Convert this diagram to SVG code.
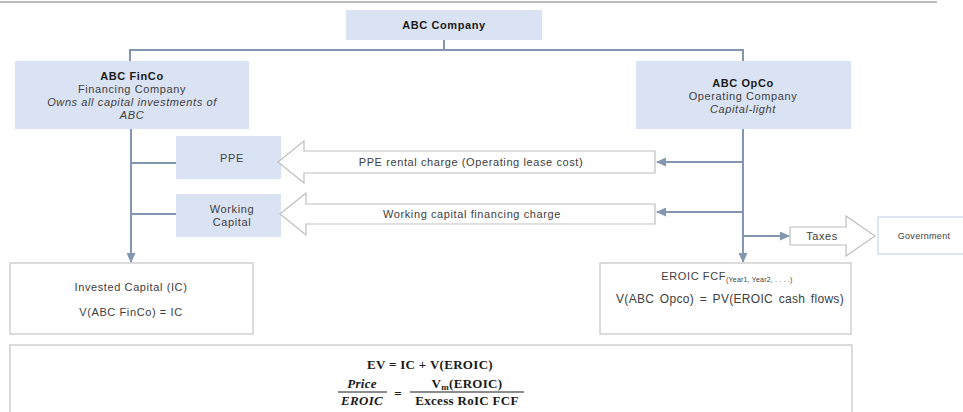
<svg xmlns="http://www.w3.org/2000/svg" width="963" height="412" viewBox="0 0 963 412">
<style>
text{font-family:"Liberation Sans","Arial",sans-serif;font-size:11px;letter-spacing:0.6px;fill:#404040;text-anchor:middle}
.b{font-weight:bold;fill:#1a1a1a}
.i{font-style:italic}
.blue{fill:#dae3f3}
.wbox{fill:#fff;stroke:#d0d0d0;stroke-width:1.5}
.blk{fill:#fff;stroke:#bfbfbf;stroke-width:1.2}
.con{fill:none;stroke:#8497b0;stroke-width:2}
.math{font-family:"Liberation Serif","DejaVu Serif",serif;font-weight:bold;font-size:13px;letter-spacing:0.3px;fill:#1a1a1a}
</style>
<defs>
<marker id="ah" markerUnits="userSpaceOnUse" markerWidth="10" markerHeight="9" refX="9" refY="4.5" orient="auto">
<path d="M0,0 L10,4.5 L0,9 z" fill="#8497b0"/>
</marker>
</defs>
<line x1="0" y1="2" x2="937" y2="2" stroke="#a6a6a6" stroke-width="1.5"/>
<g id="connectors">
<path class="con" d="M444,40 V50 M130,61 V50 H743 V61"/>
<path class="con" d="M131,129 V262" marker-end="url(#ah)"/>
<path class="con" d="M131,163 H176 M131,214 H176"/>
<path class="con" d="M743,129 V262" marker-end="url(#ah)"/>
<path class="con" d="M743,162 H657" marker-end="url(#ah)"/>
<path class="con" d="M743,212 H657" marker-end="url(#ah)"/>
<path class="con" d="M743,236 H789" marker-end="url(#ah)"/>
</g>
<g id="abc-company">
<rect class="blue" x="346" y="10" width="196" height="30"/>
<text class="b" x="444" y="29">ABC Company</text>
</g>
<g id="finco">
<rect class="blue" x="15" y="61" width="234" height="68"/>
<text class="b" x="132" y="80">ABC FinCo</text>
<text x="132" y="93">Financing Company</text>
<text class="i" x="132" y="106">Owns all capital investments of</text>
<text class="i" x="132" y="119">ABC</text>
</g>
<g id="opco">
<rect class="blue" x="636" y="61" width="215" height="68"/>
<text class="b" x="743" y="87">ABC OpCo</text>
<text x="743" y="100">Operating Company</text>
<text class="i" x="743" y="113">Capital-light</text>
</g>
<g id="ppe">
<rect class="blue" x="176" y="136" width="105" height="43"/>
<text x="232" y="162">PPE</text>
</g>
<g id="working-capital">
<rect class="blue" x="176" y="194" width="105" height="43"/>
<text x="232" y="213">Working</text>
<text x="232" y="226">Capital</text>
</g>
<g id="ppe-charge">
<polygon class="blk" points="278,162 304,141 304,151 655,151 655,173 304,173 304,183"/>
<text x="471" y="166">PPE rental charge (Operating lease cost)</text>
</g>
<g id="wc-charge">
<polygon class="blk" points="280,214 306,193 306,204 655,204 655,224 306,224 306,235"/>
<text x="472" y="218">Working capital financing charge</text>
</g>
<g id="taxes">
<polygon class="blk" points="790,227 846,227 846,216 875,236 846,256 846,245 790,245"/>
<text x="822" y="240">Taxes</text>
</g>
<g id="government">
<rect x="878" y="217" width="95" height="37" fill="#fff" stroke="#c9d5ea" stroke-width="1.2"/>
<text x="924" y="239" style="font-size:9px;letter-spacing:0.3px">Government</text>
</g>
<g id="invested-capital">
<rect class="wbox" x="10" y="263" width="243" height="71"/>
<text x="131" y="291">Invested Capital (IC)</text>
<text x="131" y="316">V(ABC FinCo) = IC</text>
</g>
<g id="eroic">
<rect class="wbox" x="600" y="263" width="251" height="71"/>
<text x="727" y="280">EROIC FCF<tspan style="font-size:7px;letter-spacing:0.2px" dy="2">(Year1, Year2, . . . .)</tspan></text>
<text x="730" y="303" style="font-size:12px;letter-spacing:0.3px;word-spacing:2px">V(ABC Opco) = PV(EROIC cash flows)</text>
</g>
<g id="valuation">
<rect class="wbox" x="10" y="345" width="842" height="80"/>
<text class="math" x="430" y="369">EV = IC + V(EROIC)</text>
<text class="math" x="362" y="388" font-style="italic">Price</text>
<text class="math" x="362" y="405" font-style="italic">EROIC</text>
<line x1="338" y1="392" x2="387" y2="392" stroke="#1a1a1a" stroke-width="1"/>
<text class="math" x="398" y="398">=</text>
<text class="math" x="467" y="388">V<tspan style="font-size:9px" dy="2">m</tspan><tspan dy="-2">(EROIC)</tspan></text>
<text class="math" x="467" y="405">Excess RoIC FCF</text>
<line x1="410" y1="392" x2="524" y2="392" stroke="#1a1a1a" stroke-width="1"/>
</g>
</svg>
